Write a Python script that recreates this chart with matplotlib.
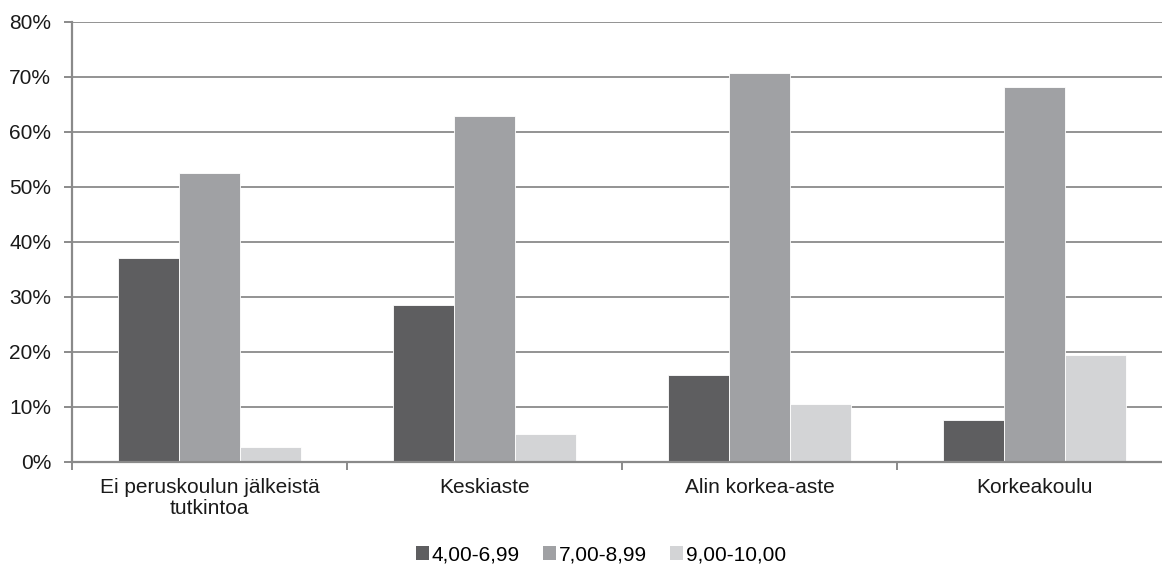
import matplotlib
matplotlib.use("Agg")
import matplotlib.pyplot as plt
from matplotlib.patches import Patch
import numpy as np

categories = ["Ei peruskoulun jälkeistä\ntutkintoa", "Keskiaste", "Alin korkea-aste", "Korkeakoulu"]
series_names = ["4,00-6,99", "7,00-8,99", "9,00-10,00"]
s_low = [37.0, 28.5, 15.7, 7.6]
s_mid = [52.5, 62.8, 70.6, 68.1]
s_high = [2.7, 5.0, 10.4, 19.3]
y_ticks = [0, 10, 20, 30, 40, 50, 60, 70, 80]
y_labels = ["0%", "10%", "20%", "30%", "40%", "50%", "60%", "70%", "80%"]

colors = ["#5e5e60", "#a0a1a4", "#d3d4d6"]
grid_c = "#8a8a8a"
FS = 15

plt.rcParams["font.family"] = ["Liberation Sans", "DejaVu Sans"]

W, H = 1162, 569
fig = plt.figure(figsize=(W / 100, H / 100), dpi=100)
ax = fig.add_axes([72 / W, (H - 461.5) / H, 1100 / W, 440 / H])

x = np.arange(len(categories))
bw = 0.222
for i, (vals, c) in enumerate(zip([s_low, s_mid, s_high], colors)):
    ax.bar(x + (i - 1) * bw, vals, width=bw, color=c, edgecolor="white",
           linewidth=0.6, zorder=3)

ax.set_xlim(-0.5, len(categories) - 0.5)
ax.set_ylim(0, 80)
ax.set_yticks(y_ticks)
ax.set_yticklabels(y_labels, fontsize=FS, color="#1a1a1a")
ax.yaxis.grid(True, color=grid_c, linewidth=1.3, zorder=0)
ax.set_axisbelow(True)

ax.set_xticks(x)
ax.set_xticklabels(categories, fontsize=FS, color="#1a1a1a", linespacing=1.15)
ax.set_xticks(np.arange(len(categories) + 1) - 0.5, minor=True)
ax.tick_params(axis="x", which="major", length=0, pad=12)
ax.tick_params(axis="x", which="minor", length=6, width=1.4, color=grid_c)
ax.tick_params(axis="y", length=6, width=1.4, color=grid_c, pad=9)

for s in ["top", "right"]:
    ax.spines[s].set_visible(False)
for s in ["left", "bottom"]:
    ax.spines[s].set_color(grid_c)
    ax.spines[s].set_linewidth(1.6)
ax.spines["bottom"].set_zorder(4)

handles = [Patch(facecolor=c, edgecolor="none") for c in colors]
fig.legend(handles, series_names, loc="center", bbox_to_anchor=(601 / W, (H - 555) / H),
           ncol=3, frameon=False, fontsize=FS, handlelength=0.62, handleheight=0.62,
           handletextpad=0.15, columnspacing=1.1, borderaxespad=0, borderpad=0)

fig.savefig("out.png", dpi=100)
